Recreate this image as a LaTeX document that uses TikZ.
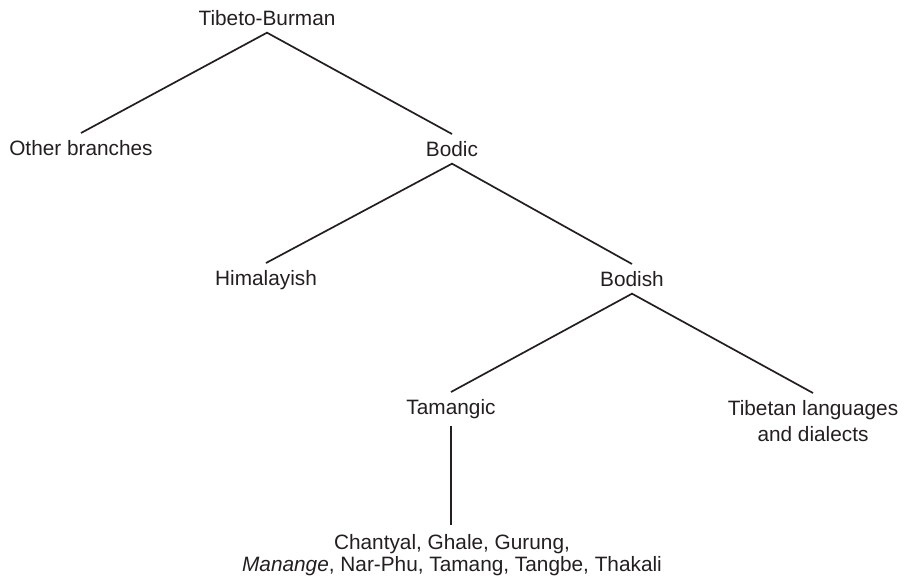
\documentclass[tikz,border=0pt]{standalone}
\usepackage{fontspec}
\setmainfont{Liberation Sans}
\definecolor{ink}{HTML}{231F20}
\begin{document}
\begin{tikzpicture}[x=1pt,y=-1pt,
  lang/.style={anchor=north, inner xsep=0pt, inner ysep=7pt, text=ink,
    align=center, font=\fontsize{20.8}{26.5}\selectfont},
  branch/.style={draw=ink, line width=1.7pt, line join=miter}]
  \useasboundingbox (0,0) rectangle (910,582);

  % language groups
  \node[lang] (tb)   at (267,3)   {Tibeto-Burman};
  \node[lang] (oth)  at (81,133)  {Other branches};
  \node[lang] (bdc)  at (452,134) {Bodic};
  \node[lang] (him)  at (266,263) {Himalayish};
  \node[lang] (bdsh) at (632,264) {Bodish};
  \node[lang] (tam)  at (451,392) {Tamangic};
  \node[lang] (tib)  at (813,393) {Tibetan languages\\and dialects};
  \node[lang, inner ysep=9pt, font=\fontsize{20.8}{22.5}\selectfont] (lst) at (452,525)
    {Chantyal, Ghale, Gurung,\\\textit{Manange}, Nar-Phu, Tamang, Tangbe, Thakali};

  % tree branches
  \draw[branch] (oth.north) -- (tb.south) -- (bdc.north);
  \draw[branch] (him.north) -- (bdc.south) -- (bdsh.north);
  \draw[branch] (tam.north) -- (bdsh.south) -- (tib.north);
  \draw[branch] (tam.south) -- (tam.south |- lst.north);
\end{tikzpicture}
\end{document}
